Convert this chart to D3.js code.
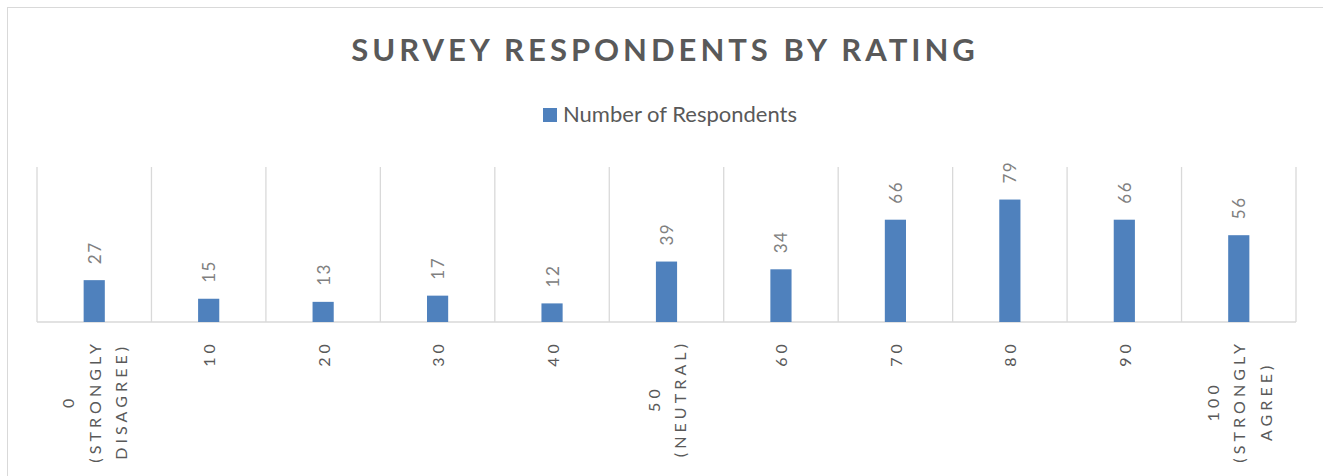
<!DOCTYPE html>
<html>
<head>
<meta charset="utf-8">
<script src="https://cdn.jsdelivr.net/npm/d3@7"></script>
<style>
  body { margin: 0; background: #fff; }
  text { font-family: Lato, "Open Sans", sans-serif; }
</style>
</head>
<body>
<div class="container"></div>
<script>
const categories = ["0 (STRONGLY DISAGREE)", "10", "20", "30", "40", "50 (NEUTRAL)",
  "60", "70", "80", "90", "100 (STRONGLY AGREE)"];
const respondents = [27, 15, 13, 17, 12, 39, 34, 66, 79, 66, 56];
const seriesName = "Number of Respondents";
const title = "SURVEY RESPONDENTS BY RATING";

const width = 1323, height = 476;
const margin = { left: 37, right: 27, top: 167, bottom: 154 };

const svg = d3.select(".container")
  .append("svg")
  .attr("width", width)
  .attr("height", height);

// chart frame
svg.append("rect")
  .attr("x", 7.5).attr("y", 7.5)
  .attr("width", width + 10).attr("height", height + 10)
  .attr("fill", "none")
  .attr("stroke", "#d9d9d9");

const x = d3.scaleBand()
  .domain(categories)
  .range([margin.left, width - margin.right]);

const y = d3.scaleLinear()
  .domain([0, 100])
  .range([height - margin.bottom, margin.top]);

// title
svg.append("text")
  .attr("x", 665).attr("y", 61)
  .attr("text-anchor", "middle")
  .attr("fill", "#595959")
  .style("font-size", "31px")
  .style("font-weight", "bold")
  .style("letter-spacing", "4px")
  .text(title);

// legend
const legend = svg.append("g").attr("transform", "translate(543,108)");
legend.append("rect")
  .attr("width", 14).attr("height", 14)
  .attr("fill", "#4f81bd");
legend.append("text")
  .attr("x", 20).attr("y", 14)
  .attr("fill", "#595959")
  .style("font-size", "22px")
  .text(seriesName);

// vertical gridlines at category boundaries
const bounds = categories.map(d => x(d)).concat([x.range()[1]]);
svg.append("g")
  .selectAll("line")
  .data(bounds)
  .join("line")
  .attr("x1", d => d).attr("x2", d => d)
  .attr("y1", y(100)).attr("y2", y(0))
  .attr("stroke", "#d9d9d9")
  .attr("stroke-width", 1.3);

// baseline
svg.append("line")
  .attr("x1", x.range()[0]).attr("x2", x.range()[1])
  .attr("y1", y(0)).attr("y2", y(0))
  .attr("stroke", "#d9d9d9")
  .attr("stroke-width", 1.3);

const barW = x.bandwidth() * 0.185;

svg.append("g")
  .selectAll("rect")
  .data(respondents)
  .join("rect")
  .attr("x", (d, i) => x(categories[i]) + x.bandwidth() / 2 - barW / 2)
  .attr("y", d => y(d))
  .attr("width", barW)
  .attr("height", d => y(0) - y(d))
  .attr("fill", "#4f81bd");

// value labels, rotated
svg.append("g")
  .selectAll("text")
  .data(respondents)
  .join("text")
  .attr("transform", (d, i) =>
    `translate(${x(categories[i]) + x.bandwidth() / 2},${y(d) - 16}) rotate(-90)`)
  .attr("dominant-baseline", "central")
  .attr("fill", "#808080")
  .style("font-size", "17px")
  .style("letter-spacing", "1.5px")
  .text(d => d);

// category labels, rotated, wrapped on spaces, lines centred in block
const lineH = 26.5;
const labelTop = 340;
const labels = svg.append("g")
  .selectAll("g")
  .data(categories)
  .join("g")
  .attr("transform", d => `translate(${x(d) + x.bandwidth() / 2},${labelTop}) rotate(-90)`);

labels.each(function(d) {
  const g = d3.select(this);
  const lines = d.split(" ");
  const texts = g.selectAll("text")
    .data(lines)
    .join("text")
    .attr("y", (l, i) => (i - (lines.length - 1) / 2) * lineH)
    .attr("text-anchor", "middle")
    .attr("dominant-baseline", "central")
    .attr("fill", "#595959")
    .style("font-size", "16px")
    .style("letter-spacing", "4.1px")
    .text(l => l);
  const maxLen = d3.max(texts.nodes(), n => n.getComputedTextLength());
  texts.attr("x", -maxLen / 2);
});
</script>
</body>
</html>
